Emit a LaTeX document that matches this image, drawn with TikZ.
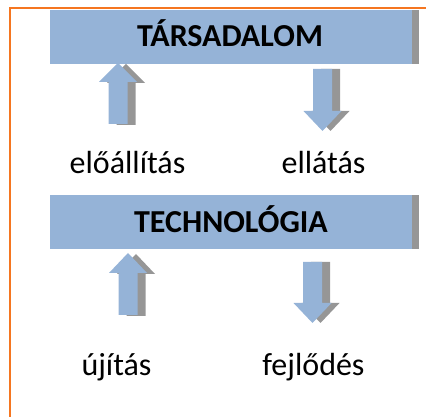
\documentclass[tikz,border=0pt]{standalone}
\usepackage{fontspec}
\setmainfont{Carlito}
\usepackage{tikz}
\usetikzlibrary{positioning}
\definecolor{keret}{RGB}{245,118,32}
\definecolor{dobozkek}{RGB}{149,179,215}
\definecolor{arnyek}{RGB}{150,150,150}

\begin{document}
\begin{tikzpicture}[x=0.75pt, y=-0.75pt,
    cim/.style={anchor=base, font=\fontsize{24}{28}\selectfont\bfseries},
    felirat/.style={anchor=base, font=\fontsize{24}{28}\selectfont}]

    \useasboundingbox (0,0) rectangle (426,417);

    % Méretek (képpontban)
    \def\boxL{50}        % doboz bal széle
    \def\boxR{412}       % doboz jobb széle
    \def\shadowW{7}      % szürke árnyék szélessége
    \def\shaftW{9.5}     % nyíl szárának fél szélessége
    \def\headW{19}       % nyílhegy fél szélessége

    % =========================================================================
    % DOBOZOK
    % =========================================================================

    % Társadalom
    \fill[arnyek] (\boxR, 10) rectangle ({\boxR + \shadowW}, 64);
    \fill[dobozkek] (\boxL, 10) rectangle (\boxR, 64);
    \node[cim] (tarsadalom) at (230, 46.5) {TÁRSADALOM};

    % Technológia
    \fill[arnyek] (\boxR, 195) rectangle ({\boxR + \shadowW}, 249);
    \fill[dobozkek] (\boxL, 195) rectangle (\boxR, 249);
    \node[cim] (technologia) at (231, 233) {TECHNOLÓGIA};

    % =========================================================================
    % NYILAK
    % =========================================================================

    % Felfelé mutató nyilak: közép / hegy / hegy alja / szár alja
    \foreach \cx/\tip/\base/\bot in {118/63/82/124, 128/253/273/315} {
        \fill[arnyek, shift={(8,1)}]
            ({\cx - \shaftW}, \bot) -- ({\cx - \shaftW}, \base) -- ({\cx - \headW}, \base)
            -- (\cx, \tip) -- ({\cx + \headW}, \base) -- ({\cx + \shaftW}, \base)
            -- ({\cx + \shaftW}, \bot) -- cycle;
        \fill[dobozkek]
            ({\cx - \shaftW}, \bot) -- ({\cx - \shaftW}, \base) -- ({\cx - \headW}, \base)
            -- (\cx, \tip) -- ({\cx + \headW}, \base) -- ({\cx + \shaftW}, \base)
            -- ({\cx + \shaftW}, \bot) -- cycle;
    }

    % Lefelé mutató nyilak: közép / szár teteje / hegy teteje / hegy
    \foreach \cx/\top/\base/\tip in {322.5/69/111/131, 312.5/262/303/323} {
        \fill[arnyek, shift={(8,0)}]
            ({\cx - \shaftW}, \top) -- ({\cx - \shaftW}, \base) -- ({\cx - \headW}, \base)
            -- (\cx, \tip) -- ({\cx + \headW}, \base) -- ({\cx + \shaftW}, \base)
            -- ({\cx + \shaftW}, \top) -- cycle;
        \fill[dobozkek]
            ({\cx - \shaftW}, \top) -- ({\cx - \shaftW}, \base) -- ({\cx - \headW}, \base)
            -- (\cx, \tip) -- ({\cx + \headW}, \base) -- ({\cx + \shaftW}, \base)
            -- ({\cx + \shaftW}, \top) -- cycle;
    }

    % =========================================================================
    % FELIRATOK
    % =========================================================================

    \node[felirat] (eloallitas) at (127.5, 174) {előállítás};
    \node[felirat] (ellatas) at (323.5, 174) {ellátás};
    \node[felirat] (ujitas) at (116.5, 376) {újítás};
    \node[felirat] (fejlodes) at (313.5, 376) {fejlődés};

    % Keret (bal és felső oldal)
    \draw[keret, line width=1.5pt] (10, 417) -- (10, 8) -- (426, 8);

\end{tikzpicture}
\end{document}
